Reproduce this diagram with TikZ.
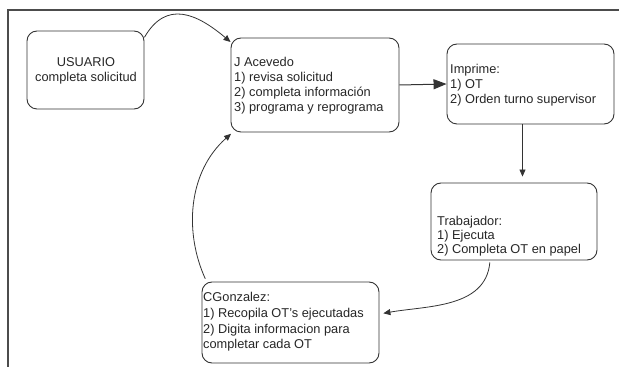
\documentclass[tikz,border=0pt]{standalone}
\usepackage{fontspec}
\setmainfont{Liberation Sans}
\usetikzlibrary{arrows.meta}
\newcommand{\trazo}{black!80}
\newcommand{\grosor}{0.9pt}
\tikzset{
  caja/.style={draw=\trazo, line width=\grosor, rounded corners=10pt, inner sep=0pt},
  texto/.style={anchor=north west, align=left, inner sep=0pt, text=black!85,
    font=\fontsize{12.8}{15}\selectfont},
  flecha/.style={draw=\trazo, line width=0.8pt, -{Triangle[length=7pt,width=6pt]}},
  flechagrande/.style={draw=\trazo, line width=1pt, -{Triangle[length=13pt,width=10pt]}}
}

\begin{document}
\begin{tikzpicture}[x=1pt,y=1pt]
\useasboundingbox (0,0) rectangle (619,367);
%marco
\draw[gray!60!black, line width=1.2pt] (8,0) -- (8,357) -- (619,357);
%cajas
\node[caja, minimum width=117pt, minimum height=78pt] (usuario) at (85.5,297) {};
\node[caja, minimum width=168pt, minimum height=94pt] (jacevedo) at (315,282) {};
\node[caja, minimum width=167pt, minimum height=80pt] (imprime) at (530.5,283) {};
\node[caja, minimum width=166pt, minimum height=77pt] (trabajador) at (514,145.5) {};
\node[caja, minimum width=177pt, minimum height=81pt] (cgonzalez) at (290.5,44.5) {};
%textos
\node[texto, anchor=center, align=center] (usuario-txt) at (86,296) {USUARIO\\completa solicitud};
\node[texto] (jacevedo-txt) at (234,310) {J Acevedo\\1) revisa solicitud\\2) completa información\\3) programa y reprograma};
\node[texto] (imprime-txt) at (450,303) {Imprime:\\1) OT\\2) Orden turno supervisor};
\node[texto, font=\fontsize{12.8}{14.2}\selectfont] (trabajador-txt) at (437,151) {Trabajador:\\1) Ejecuta\\2) Completa OT en papel};
\node[texto, font=\fontsize{12.8}{15.8}\selectfont] (cgonzalez-txt) at (203,75) {CGonzalez:\\1) Recopila OT's ejecutadas\\2) Digita informacion para\\completar cada OT};
%flechas
\draw[flecha] (usuario.29) to[out=60, in=140, looseness=1.3] (jacevedo.153);
\draw[flechagrande] (jacevedo.east) -- (imprime.west);
\draw[flecha, shorten >=6pt] ([xshift=-8pt]imprime.south) -- ([xshift=8.5pt]trabajador.north);
\draw[flecha, shorten <=2pt, shorten >=4pt] ([xshift=-24pt]trabajador.south) to[out=-95, in=10] ([yshift=8.5pt]cgonzalez.east);
\draw[flecha, shorten <=3pt, shorten >=2pt] ([xshift=5pt]cgonzalez.north west) .. controls (184,135) and (188,195) .. ([xshift=2pt]jacevedo.south west);
\end{tikzpicture}
\end{document}
